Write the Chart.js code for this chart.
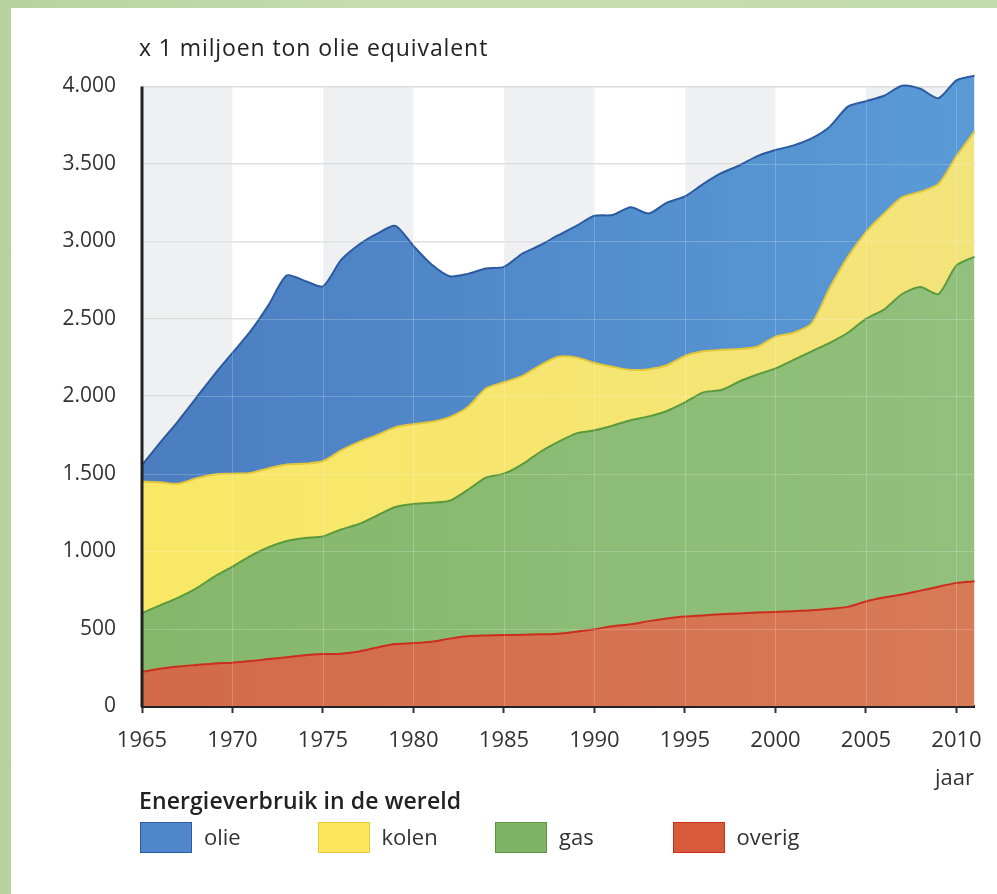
<!DOCTYPE html>
<html lang="nl">
<head>
<meta charset="utf-8">
<title>Energieverbruik in de wereld</title>
<script src="https://cdn.jsdelivr.net/npm/chart.js@4.4.1/dist/chart.umd.min.js"></script>
<style>
  html, body { margin: 0; padding: 0; }
  body { width: 997px; height: 894px; position: relative; overflow: hidden;
         background: linear-gradient(to right, #b6d39f, #c6ddb2 40%, #c2dbad); font-family: "Open Sans", sans-serif; color: #222; }
  #panel { position: absolute; left: 11px; top: 8px; right: 0; bottom: 0; background: #fff; }
  #chart { position: absolute; left: 0; top: 0; }
  #unit { position: absolute; left: 139px; top: 33px; font-size: 23px; line-height: 28px; letter-spacing: 0.9px; }
  #jaar { position: absolute; left: 935px; top: 762px; font-size: 22px; line-height: 28px; color: #333; }
  #legendTitle { position: absolute; left: 139px; top: 786px; font-size: 23px; font-weight: 600; line-height: 28px; letter-spacing: 0.1px; }
  #legend { position: absolute; left: 140px; top: 822px; }
  .item { position: absolute; top: 0; height: 31px; white-space: nowrap; }
  .box { position: absolute; left: 0; top: 0; width: 52px; height: 31px; box-sizing: border-box; }
  .lbl { position: absolute; left: 64px; top: 0px; font-size: 22px; line-height: 28px; color: #333; }
</style>
</head>
<body>
<div id="panel"></div>
<canvas id="chart" width="997" height="894"></canvas>
<div id="unit">x 1 miljoen ton olie equivalent</div>
<div id="jaar">jaar</div>
<div id="legendTitle">Energieverbruik in de wereld</div>
<div id="legend"></div>
<script>
// years on the x axis
const years = [1965, 1966, 1967, 1968, 1969, 1970, 1971, 1972, 1973, 1974,
               1975, 1976, 1977, 1978, 1979, 1980, 1981, 1982, 1983, 1984,
               1985, 1986, 1987, 1988, 1989, 1990, 1991, 1992, 1993, 1994,
               1995, 1996, 1997, 1998, 1999, 2000, 2001, 2002, 2003, 2004,
               2005, 2006, 2007, 2008, 2009, 2010, 2011];

// top edge of each layer (stacked totals, x 1 miljoen ton olie equivalent)
const overigTop = [220, 240, 255, 265, 275, 280, 290, 303, 315, 328,
                   335, 338, 352, 378, 400, 406, 415, 435, 450, 455,
                   458, 460, 463, 467, 480, 495, 515, 528, 548, 565,
                   578, 585, 592, 598, 603, 607, 612, 618, 628, 640,
                   675, 700, 720, 745, 770, 795, 805];
const gasTop = [600, 650, 700, 760, 835, 900, 970, 1025, 1065, 1085,
                1095, 1140, 1175, 1230, 1285, 1305, 1312, 1325, 1395, 1475,
                1500, 1560, 1640, 1705, 1760, 1780, 1810, 1845, 1870, 1905,
                1960, 2025, 2040, 2095, 2140, 2180, 2235, 2290, 2345, 2410,
                2500, 2560, 2660, 2705, 2660, 2845, 2900];
const kolenTop = [1450, 1445, 1435, 1470, 1495, 1500, 1505, 1535, 1560, 1565,
                  1580, 1650, 1705, 1750, 1800, 1820, 1835, 1865, 1930, 2050,
                  2090, 2130, 2200, 2255, 2250, 2215, 2190, 2170, 2175, 2200,
                  2260, 2290, 2300, 2305, 2320, 2385, 2410, 2470, 2700, 2900,
                  3060, 3180, 3285, 3320, 3370, 3550, 3710];
const olieTop = [1555, 1700, 1840, 1990, 2140, 2280, 2420, 2590, 2780, 2745,
                 2710, 2880, 2980, 3050, 3100, 2970, 2850, 2775, 2790, 2825,
                 2835, 2920, 2975, 3040, 3100, 3165, 3170, 3220, 3180, 3250,
                 3290, 3370, 3440, 3490, 3550, 3590, 3620, 3665, 3740, 3870,
                 3905, 3940, 4005, 3985, 3925, 4040, 4070];

// axis ticks
const xTicks = [1965, 1970, 1975, 1980, 1985, 1990, 1995, 2000, 2005, 2010];
const yTicks = [0, 500, 1000, 1500, 2000, 2500, 3000, 3500, 4000];
// grey background bands (start year of each 5-year band)
const bandStarts = [1965, 1975, 1985, 1995, 2005];

// dutch thousands separator: 4000 -> 4.000
function fmt(v) {
    return String(v).replace(/\B(?=(\d{3})+(?!\d))/g, '.');
}

function points(arr) {
    return years.map((y, i) => ({ x: y, y: arr[i] }));
}

// left-to-right shading like the original print
function shade(from, to) {
    return function (context) {
        const a = context.chart.chartArea;
        if (!a) return from;
        const g = context.chart.ctx.createLinearGradient(a.left, 0, a.right, 0);
        g.addColorStop(0, from);
        g.addColorStop(1, to);
        return g;
    };
}

// alternating background bands, faint grid over the areas, y axis line
const backdrop = {
    id: 'backdrop',
    beforeDraw(chart) {
        const { ctx, chartArea: a, scales: { x, y } } = chart;
        const top = y.getPixelForValue(4000);
        ctx.save();
        ctx.fillStyle = '#eff0f2';
        bandStarts.forEach(s => {
            const x1 = x.getPixelForValue(s);
            const x2 = x.getPixelForValue(Math.min(s + 5, x.max));
            ctx.fillRect(x1, top, x2 - x1, a.bottom - top);
        });
        ctx.restore();
    },
    afterDatasetsDraw(chart) {
        const { ctx, chartArea: a, scales: { x, y } } = chart;
        const top = y.getPixelForValue(4000);
        ctx.save();
        ctx.strokeStyle = 'rgba(255,255,255,0.2)';
        ctx.lineWidth = 1;
        ctx.beginPath();
        yTicks.slice(1, -1).forEach(v => {
            const py = Math.round(y.getPixelForValue(v)) + 0.5;
            ctx.moveTo(a.left, py); ctx.lineTo(a.right, py);
        });
        xTicks.slice(1).forEach(v => {
            const px = Math.round(x.getPixelForValue(v)) + 0.5;
            ctx.moveTo(px, top); ctx.lineTo(px, a.bottom);
        });
        ctx.stroke();
        ctx.strokeStyle = '#222';
        ctx.lineWidth = 3;
        ctx.beginPath();
        ctx.moveTo(a.left, top);
        ctx.lineTo(a.left, a.bottom + 1);
        ctx.stroke();
        ctx.restore();
    }
};

const series = [
    { label: 'overig', data: overigTop, fill: 'origin', from: '#d26a4a', to: '#d77a57', line: '#cc2d1c', box: '#d85a3a' },
    { label: 'gas', data: gasTop, fill: '-1', from: '#85b76b', to: '#92c07d', line: '#5b9a3c', box: '#7fb365' },
    { label: 'kolen', data: kolenTop, fill: '-1', from: '#f8e865', to: '#f3e37c', line: '#e3c63a', box: '#fbe65c' },
    { label: 'olie', data: olieTop, fill: '-1', from: '#4b7dc0', to: '#5a9bd7', line: '#2c5a9f', box: '#4f86cc' }
];

const ctx = document.getElementById('chart').getContext('2d');
const chart = new Chart(ctx, {
    type: 'line',
    data: {
        datasets: series.map(s => ({
            label: s.label,
            data: points(s.data),
            fill: s.fill,
            backgroundColor: shade(s.from, s.to),
            borderColor: s.line,
            borderWidth: 2,
            pointRadius: 0,
            tension: 0.25,
            clip: false
        }))
    },
    options: {
        responsive: false,
        animation: false,
        events: [],
        layout: { padding: { left: 0, top: 71, right: 17, bottom: 0 } },
        plugins: {
            legend: { display: false },
            tooltip: { enabled: false }
        },
        scales: {
            x: {
                type: 'linear',
                min: 1965,
                max: 2011,
                afterBuildTicks: s => { s.ticks = xTicks.map(v => ({ value: v })); },
                afterFit: s => { s.height = 188; },
                border: { color: '#222', width: 3 },
                grid: { drawOnChartArea: false, tickLength: 7, tickColor: '#333', tickWidth: 2 },
                ticks: { color: '#333', font: { family: 'Open Sans', size: 22 }, padding: 15, maxRotation: 0, callback: v => String(v) }
            },
            y: {
                min: 0,
                max: 4100,
                afterBuildTicks: s => { s.ticks = yTicks.map(v => ({ value: v })); },
                afterFit: s => { s.width = 142; },
                border: { display: false },
                grid: { color: '#dcdcdc', lineWidth: 1.5, drawTicks: false },
                ticks: { color: '#333', font: { family: 'Open Sans', size: 21 }, padding: 26, callback: v => fmt(v) }
            }
        }
    },
    plugins: [backdrop]
});

// legend built from the chart's series, olie first
const legend = document.getElementById('legend');
series.slice().reverse().forEach((s, i) => {
    const item = document.createElement('div');
    item.className = 'item';
    item.style.left = (i * 177.5) + 'px';
    const box = document.createElement('div');
    box.className = 'box';
    box.style.background = s.box;
    box.style.border = '1px solid ' + s.line;
    const lbl = document.createElement('div');
    lbl.className = 'lbl';
    lbl.textContent = s.label;
    item.appendChild(box);
    item.appendChild(lbl);
    legend.appendChild(item);
});
</script>
</body>
</html>
